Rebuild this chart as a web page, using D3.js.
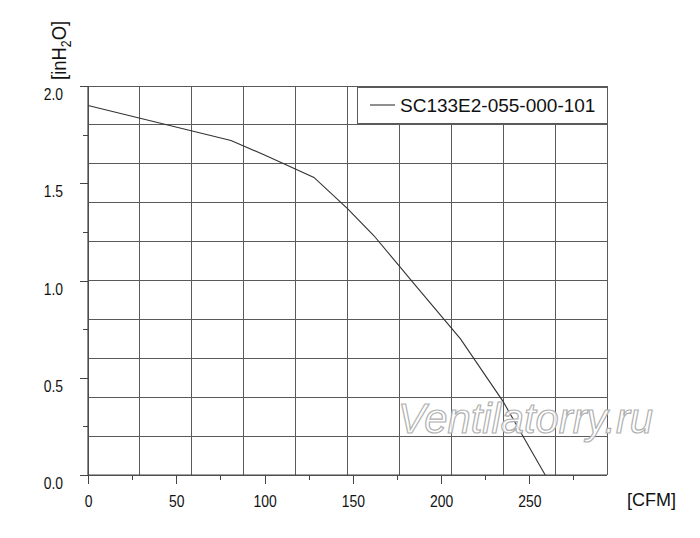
<!DOCTYPE html>
<html><head><meta charset="utf-8">
<script src="https://cdn.jsdelivr.net/npm/d3@7"></script>
<style>
body{margin:0;background:#fff;}
svg{display:block;}
</style></head>
<body>
<svg id="c" width="700" height="538"></svg>
<script>
// data
const cfm      = [0,    81,   100,   128,  147,  162,  185,  211,  235,  259];
const pressure = [1.90, 1.72, 1.645, 1.53, 1.37, 1.23, 0.98, 0.70, 0.38, 0.0];
const xMajorTicks = [0, 50, 100, 150, 200, 250];
const xMinorTicks = [25, 75, 125, 175, 225, 275];
const yMajorTicks = [0, 0.5, 1.0, 1.5, 2.0];
const yMinorTicks = [0.25, 0.75, 1.25, 1.75];
const seriesName = "SC133E2-055-000-101";
const xUnit = "[CFM]";
const watermark = "Ventilatorry.ru";

const FONT = "'Liberation Sans',Arial,sans-serif";
const NARROW = 0.82;
const svg = d3.select("#c");
const L = 88, R = 607, T = 86, B = 475;
const x = d3.scaleLinear().domain([0, 294]).range([L, R]);
const y = d3.scaleLinear().domain([0, 2]).range([B, T]);

const gridColor = "#5a5a5a";
// grid: 10 equal divisions each way
const gx = d3.range(0, 11).map(i => L + (R - L) * i / 10);
const gy = d3.range(0, 11).map(i => B - (B - T) * i / 10);
svg.append("g").selectAll("line").data(gx).join("line")
  .attr("x1", d => d).attr("x2", d => d).attr("y1", T).attr("y2", B)
  .attr("stroke", gridColor).attr("stroke-width", 1).attr("shape-rendering","crispEdges");
svg.append("g").selectAll("line").data(gy).join("line")
  .attr("y1", d => d).attr("y2", d => d).attr("x1", L).attr("x2", R)
  .attr("stroke", gridColor).attr("stroke-width", 1).attr("shape-rendering","crispEdges");

// axes
const axColor = "#444";
function styleAxis(g){
  g.select(".domain").remove();
  g.selectAll(".tick line").attr("stroke", axColor).attr("shape-rendering","crispEdges");
}
svg.append("g").attr("transform", `translate(0,${B})`)
  .call(d3.axisBottom(x).tickValues(xMinorTicks).tickSize(5).tickFormat(""))
  .call(styleAxis);
const xa = svg.append("g").attr("transform", `translate(0,${B})`)
  .call(d3.axisBottom(x).tickValues(xMajorTicks).tickSize(9).tickFormat(d3.format("d")))
  .call(styleAxis);
xa.selectAll(".tick text").attr("font-family", FONT).attr("font-size", 17)
  .attr("fill", "#111").attr("x", 0).attr("y", 32.5).attr("dy", null)
  .attr("transform", `scale(${NARROW},1)`);

svg.append("g").attr("transform", `translate(${L},0)`)
  .call(d3.axisLeft(y).tickValues(yMinorTicks).tickSize(5).tickFormat(""))
  .call(styleAxis);
const ya = svg.append("g").attr("transform", `translate(${L},0)`)
  .call(d3.axisLeft(y).tickValues(yMajorTicks).tickSize(8).tickFormat(d3.format(".1f")))
  .call(styleAxis);
ya.selectAll(".tick text").attr("font-family", FONT).attr("font-size", 17)
  .attr("fill", "#111").attr("x", -25 / NARROW).attr("y", 13.6).attr("dy", null)
  .attr("transform", `scale(${NARROW},1)`);

// axis lines
svg.append("line").attr("x1", L).attr("x2", L).attr("y1", T).attr("y2", B)
  .attr("stroke", axColor).attr("stroke-width", 1.2);
svg.append("line").attr("x1", L).attr("x2", R).attr("y1", B).attr("y2", B)
  .attr("stroke", axColor).attr("stroke-width", 1.2);

// curve
svg.append("path")
  .datum(cfm.map((c, i) => [c, pressure[i]]))
  .attr("d", d3.line().x(d => x(d[0])).y(d => y(d[1])))
  .attr("fill", "none").attr("stroke", "#333").attr("stroke-width", 1.1);

// watermark
svg.append("text").attr("x", 398).attr("y", 433)
  .attr("font-family", FONT).attr("font-style", "italic")
  .attr("font-size", 42).attr("fill", "#fff").attr("fill-opacity", 0.85)
  .attr("stroke", "#b0b0b0").attr("stroke-width", 1.2)
  .attr("textLength", 255).attr("lengthAdjust", "spacingAndGlyphs")
  .text(watermark);

// legend
svg.append("rect").attr("x", 357).attr("y", 87).attr("width", R - 357).attr("height", 36)
  .attr("fill", "#fff").attr("stroke", gridColor).attr("stroke-width", 1).attr("shape-rendering","crispEdges");
svg.append("line").attr("x1", 370).attr("x2", 395).attr("y1", 105).attr("y2", 105)
  .attr("stroke", "#333").attr("stroke-width", 1.1);
svg.append("text").attr("x", 400).attr("y", 111.5)
  .attr("font-family", FONT).attr("font-size", 19).attr("fill", "#111")
  .text(seriesName);

// x unit
svg.append("text").attr("x", 627).attr("y", 505.5)
  .attr("font-family", FONT).attr("font-size", 18).attr("fill", "#111")
  .text(xUnit);

// y unit (rotated)
const yt = svg.append("text")
  .attr("transform", `translate(65.5,80) rotate(-90) scale(0.88,1)`)
  .attr("font-family", FONT).attr("font-size", 21).attr("fill", "#111");
yt.append("tspan").text("[inH");
yt.append("tspan").attr("font-size", 14).attr("dy", 5).text("2");
yt.append("tspan").attr("dy", -5).text("O]");
</script>
</body></html>
